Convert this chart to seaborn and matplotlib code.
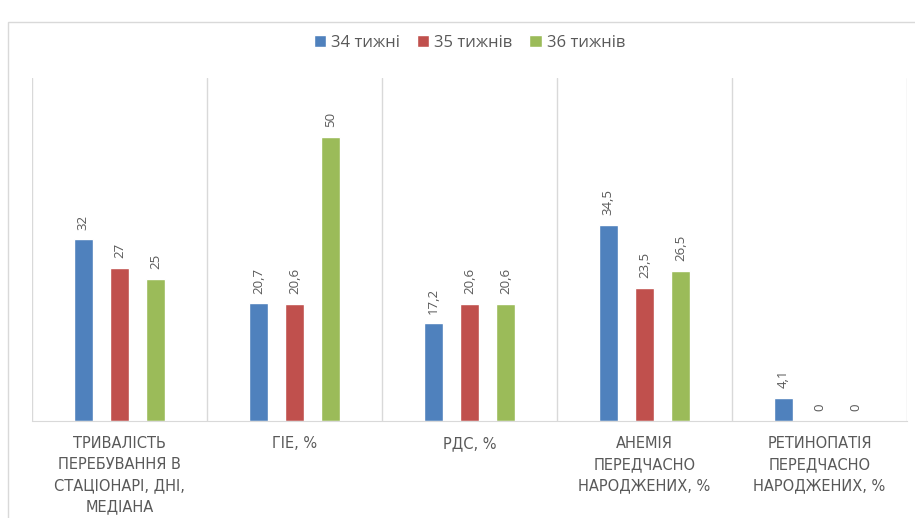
import numpy as np
import pandas as pd
import matplotlib
matplotlib.use("Agg")
import matplotlib.pyplot as plt
import seaborn as sns
from matplotlib.patches import Rectangle

# ---------------------------------------------------------------
# DATA
# ---------------------------------------------------------------
categories = [
    "ТРИВАЛІСТЬ\nПЕРЕБУВАННЯ В\nСТАЦІОНАРІ, ДНІ,\nМЕДІАНА",
    "ГІЕ, %",
    "РДС, %",
    "АНЕМІЯ\nПЕРЕДЧАСНО\nНАРОДЖЕНИХ, %",
    "РЕТИНОПАТІЯ\nПЕРЕДЧАСНО\nНАРОДЖЕНИХ, %",
]
series = ["34 тижні", "35 тижнів", "36 тижнів"]
week34 = [32, 20.7, 17.2, 34.5, 4.1]
week35 = [27, 20.6, 20.6, 23.5, 0]
week36 = [25, 50, 20.6, 26.5, 0]
colors = ["#4F81BD", "#C0504D", "#9BBB59"]

df = pd.DataFrame({
    "Category": categories * 3,
    "Series": [s for s in series for _ in categories],
    "Value": week34 + week35 + week36,
})

# ---------------------------------------------------------------
# PLOT
# ---------------------------------------------------------------
sns.set_style("white")
plt.rcParams["font.family"] = ["Open Sans", "DejaVu Sans"]

fig = plt.figure(figsize=(9.15, 5.18), dpi=100)
ax = fig.add_axes([32 / 915, 1 - 421 / 518, 875 / 915, 343 / 518])

# outer chart frame
fig.patches.append(Rectangle((8 / 915, -0.1), 1.2, 1 - 22 / 518 + 0.1,
                             transform=fig.transFigure, fill=False,
                             edgecolor="#d9d9d9", lw=1))

sns.barplot(data=df, x="Category", y="Value", hue="Series",
            palette=colors, saturation=1, width=0.62, gap=0.47, ax=ax,
            legend=True)

for i, cont in enumerate(ax.containers):
    vals = [week34, week35, week36][i]
    labels = [f"{v:g}".replace(".", ",") for v in vals]
    ax.bar_label(cont, labels=labels, rotation=90, padding=7,
                 fontsize=9.5, color="#595959")

ax.set_ylim(0, 60.4)
ax.set_xlim(-0.5, 4.5)
for x in np.arange(-0.5, 5, 1):
    ax.axvline(x, color="#d9d9d9", lw=1, zorder=0)

for side in ["top", "left", "right"]:
    ax.spines[side].set_visible(False)
ax.spines["bottom"].set_color("#d9d9d9")
ax.set_yticks([])
ax.set_xlabel("")
ax.set_ylabel("")
ax.tick_params(axis="x", length=0, pad=11)
ax.set_xticks(range(len(categories)))
ax.set_xticklabels(categories, fontsize=10.5, color="#595959",
                   linespacing=1.5, va="top", family="DejaVu Sans")

leg = ax.legend(loc="center", bbox_to_anchor=(0.5, 1 - 43 / 518),
                bbox_transform=fig.transFigure, ncol=3, frameon=False,
                fontsize=12, handlelength=0.75, handleheight=0.75,
                handletextpad=0.3, columnspacing=1.0)
leg.set_bbox_to_anchor((469.5 / 915, 1 - 43 / 518), transform=fig.transFigure)
for t in leg.get_texts():
    t.set_color("#595959")

fig.savefig("out.png", dpi=100)
